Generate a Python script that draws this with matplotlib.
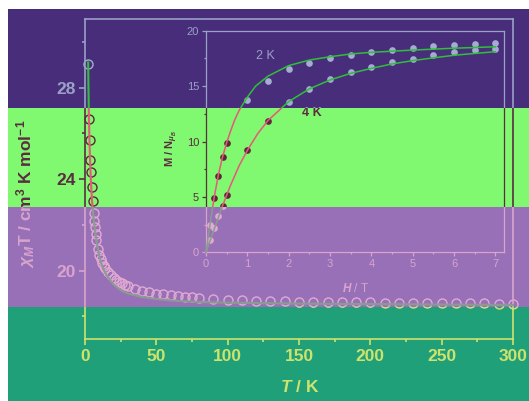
import matplotlib
matplotlib.use('Agg')
import matplotlib.pyplot as plt
from matplotlib.patches import Rectangle
from matplotlib.transforms import Bbox, TransformedBbox
from matplotlib.ticker import MultipleLocator

plt.rcParams['font.family'] = ['Liberation Sans', 'DejaVu Sans']
plt.rcParams['mathtext.fontset'] = 'custom'
plt.rcParams['mathtext.rm'] = 'Liberation Sans:bold'
plt.rcParams['mathtext.it'] = 'Liberation Sans:italic:bold'
plt.rcParams['mathtext.bf'] = 'Liberation Sans:bold'

# ---------------- data ----------------
temps = [2.2, 3.0, 3.4, 3.8, 4.2, 4.7, 5.3, 6.0, 6.5, 7.0, 7.5, 8.0, 9.0, 10, 11, 12, 13, 14,
         16, 18, 20, 22, 24, 26, 28, 30, 35, 40, 45, 50, 55, 60, 65, 70, 75, 80,
         90, 100, 110, 120, 130, 140, 150, 160, 170, 180, 190, 200, 210, 220, 230,
         240, 250, 260, 270, 280, 290, 300]
chiT = [29.05, 26.65, 25.7, 24.85, 24.3, 23.65, 23.05, 22.5, 22.15, 21.9, 21.6, 21.35, 20.95,
        20.7, 20.5, 20.35, 20.2, 20.1, 19.95, 19.8, 19.7, 19.6, 19.5, 19.45, 19.38, 19.32,
        19.2, 19.12, 19.05, 19.0, 18.96, 18.92, 18.89, 18.86, 18.83, 18.8,
        18.75, 18.72, 18.7, 18.68, 18.67, 18.66, 18.65, 18.64, 18.63, 18.62, 18.62, 18.61,
        18.6, 18.6, 18.59, 18.59, 18.58, 18.58, 18.57, 18.57, 18.56, 18.56]
fit_T = [2.2, 2.4, 2.6, 2.8, 3.0, 3.5, 4, 4.5, 5, 6, 7, 8, 10, 12, 15, 20, 25, 30, 40, 50,
         60, 80, 100, 150, 200, 250, 300]
fit_chiT = [29.1, 28.1, 27.3, 26.6, 26.0, 24.9, 24.1, 23.5, 23.0, 22.3, 21.75, 21.3, 20.65,
            20.2, 19.8, 19.4, 19.15, 19.0, 18.85, 18.76, 18.7, 18.63, 18.6, 18.56, 18.54,
            18.52, 18.5]

H_2K = [0.1, 0.2, 0.3, 0.4, 0.5, 1.0, 1.5, 2.0, 2.5, 3.0, 3.5, 4.0, 4.5, 5.0, 5.5, 6.0, 6.5, 7.0]
M_2K = [2.5, 4.9, 6.9, 8.6, 9.9, 13.75, 15.5, 16.5, 17.1, 17.5, 17.85, 18.05, 18.23, 18.4,
        18.6, 18.74, 18.83, 18.86]
H_4K = [0.1, 0.2, 0.3, 0.4, 0.5, 1.0, 1.5, 2.0, 2.5, 3.0, 3.5, 4.0, 4.5, 5.0, 5.5, 6.0, 6.5, 7.0]
M_4K = [1.1, 2.2, 3.3, 4.2, 5.2, 9.2, 11.85, 13.56, 14.7, 15.6, 16.25, 16.72, 17.15, 17.45,
        17.78, 18.05, 18.26, 18.35]
fitH_2K = [0, 0.1, 0.2, 0.3, 0.4, 0.5, 0.6, 0.7, 0.8, 1.0, 1.2, 1.5, 2.0, 2.5, 3, 3.5, 4, 5, 6, 7]
fitM_2K = [0, 2.6, 5.0, 7.0, 8.6, 9.9, 11.0, 12.0, 12.8, 14.0, 15.0, 15.9, 16.85, 17.35,
           17.65, 17.9, 18.05, 18.25, 18.42, 18.55]
fitH_4K = [0, 0.2, 0.4, 0.6, 0.8, 1.0, 1.25, 1.5, 2.0, 2.5, 3, 3.5, 4, 4.5, 5, 5.5, 6, 6.5, 7]
fitM_4K = [0, 2.1, 4.2, 6.1, 7.8, 9.2, 10.7, 11.9, 13.6, 14.75, 15.55, 16.15, 16.6, 17.0,
           17.3, 17.55, 17.78, 17.95, 18.1]

main_xticks_step = 50
main_yticks_step = 4
curve_labels = ['2 K', '4 K']

# ---------------- layout ----------------
W, HP = 529, 401
fig = plt.figure(figsize=(W / 100, HP / 100), dpi=100, facecolor='white')

bands = [
    dict(top=9, bottom=107.5, bg='#482e7a', fg='#9aa0c8', mk='#a4acd2', ln='#2fbf3a'),
    dict(top=107.5, bottom=207, bg='#80f870', fg='#5c2c40', mk='#5a2838', ln='#e8587a'),
    dict(top=207, bottom=307, bg='#9870b8', fg='#d8a4cc', mk='#e2aad2', ln='#8a9c92'),
    dict(top=307, bottom=401, bg='#20a078', fg='#cde36e', mk='#cde36e', ln='#a8c080'),
]

main_rect = [85 / W, 1 - 339.3 / HP, (513 - 85) / W, (339.3 - 19) / HP]
inset_rect = [206 / W, 1 - 252.3 / HP, (503.6 - 206) / W, (252.3 - 30.7) / HP]

created = []
for i, b in enumerate(bands):
    y0 = 1 - b['bottom'] / HP
    y1 = 1 - b['top'] / HP
    fig.add_artist(Rectangle((8 / W, y0), 1 - 8 / W, y1 - y0, transform=fig.transFigure,
                             facecolor=b['bg'], edgecolor='none', zorder=-5))
    fg = b['fg']

    # main axes
    ax = fig.add_axes(main_rect, label=f'main{i}')
    ax.patch.set_visible(False)
    ax.plot(temps, chiT, 'o', mfc='none', mec=b['mk'], ms=6.5, mew=1.0, zorder=2)
    ax.plot(fit_T, fit_chiT, '-', color=b['ln'], lw=1.5, zorder=3)
    ax.set_xlim(0, 300)
    ax.set_ylim(17, 31)
    ax.xaxis.set_major_locator(MultipleLocator(main_xticks_step))
    ax.xaxis.set_minor_locator(MultipleLocator(main_xticks_step / 2))
    ax.yaxis.set_major_locator(MultipleLocator(main_yticks_step))
    ax.yaxis.set_minor_locator(MultipleLocator(main_yticks_step / 2))
    for s in ax.spines.values():
        s.set_color(fg)
        s.set_linewidth(1.2)
    ax.tick_params(which='both', direction='out', colors=fg, top=False, right=False)
    ax.tick_params(which='major', length=4.5, width=1.2, labelsize=12.5, pad=2.5)
    ax.tick_params(which='minor', length=2.3, width=1.2)
    ax.set_xlabel('$T$ / K', fontsize=12.5, fontweight='bold', color=fg)
    ax.xaxis.set_label_coords(0.502, -0.125)
    ax.xaxis.label.set_va('top')
    ax.set_ylabel(r'$\chi_M$T / cm$^3$ K mol$^{-1}$', fontsize=12.5, fontweight='bold', color=fg)
    ax.yaxis.set_label_coords(-0.112, 0.455)

    # inset axes
    axi = fig.add_axes(inset_rect, label=f'inset{i}')
    axi.patch.set_visible(False)
    axi.plot(H_2K, M_2K, 'o', color=b['mk'], ms=4.8, mew=0, zorder=2)
    axi.plot(H_4K, M_4K, 'o', color=b['mk'], ms=4.8, mew=0, zorder=2)
    axi.plot(fitH_2K, fitM_2K, '-', color=b['ln'], lw=1.1, zorder=3)
    axi.plot(fitH_4K, fitM_4K, '-', color=b['ln'], lw=1.1, zorder=3)
    axi.set_xlim(0, 7.2)
    axi.set_ylim(0, 20)
    axi.xaxis.set_major_locator(MultipleLocator(1))
    axi.xaxis.set_minor_locator(MultipleLocator(0.5))
    axi.yaxis.set_major_locator(MultipleLocator(5))
    axi.yaxis.set_minor_locator(MultipleLocator(2.5))
    for s in axi.spines.values():
        s.set_color(fg)
        s.set_linewidth(0.9)
    axi.tick_params(which='both', direction='out', colors=fg, top=False, right=False)
    axi.tick_params(which='major', length=3.0, width=0.9, labelsize=8, pad=2)
    axi.tick_params(which='minor', length=1.6, width=0.9)
    axi.set_xlabel('$H$ / T', fontsize=8.5, color=fg)
    axi.xaxis.set_label_coords(0.503, -0.135)
    axi.xaxis.label.set_va('top')
    axi.set_ylabel(r'M / N$_{\mu_B}$', fontsize=8, fontweight='bold', color=fg)
    axi.yaxis.set_label_coords(-0.087, 0.47)
    axi.text(1.43, 17.74, curve_labels[0], fontsize=9, color=fg, ha='center', va='center')
    axi.text(2.56, 12.55, curve_labels[1], fontsize=9, color=fg, fontweight='bold',
             ha='center', va='center')

    created.append((ax, axi, y0, y1))

fig.canvas.draw()

for ax, axi, y0, y1 in created:
    for t in ax.get_xticklabels() + ax.get_yticklabels():
        t.set_fontweight('bold')
    clipbox = TransformedBbox(Bbox([[0, y0], [1, y1]]), fig.transFigure)
    for a in (ax, axi):
        for art in a.findobj():
            if art is a:
                continue
            art.set_clip_on(True)
            art.set_clip_path(None)
            art.set_clip_box(clipbox)

fig.savefig('out.png', dpi=100, facecolor='white')
